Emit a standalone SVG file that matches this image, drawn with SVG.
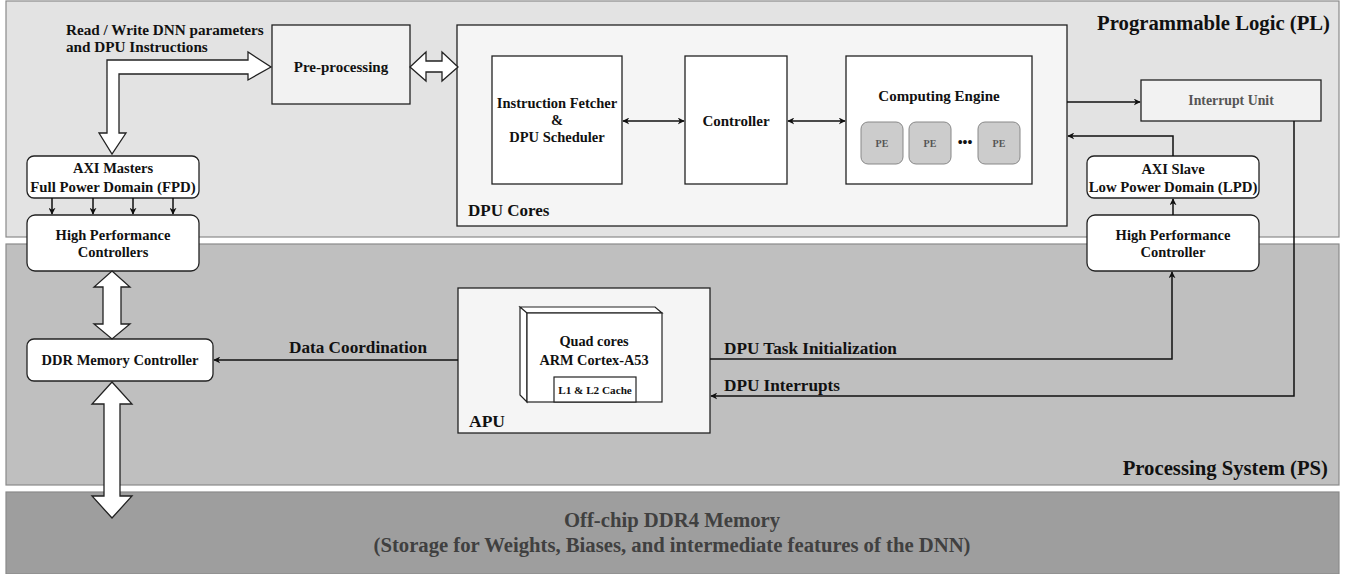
<svg xmlns="http://www.w3.org/2000/svg" width="1346" height="574" viewBox="0 0 1346 574">
<style>
text{font-family:"Liberation Serif","Times New Roman",serif;font-weight:bold;fill:#111}
.c{text-anchor:middle}
.t15{font-size:15px}
.t145{font-size:14.5px}
.panel{stroke:#8a8a8a;stroke-width:1.2}
.box{stroke:#222;stroke-width:1.3}
.rb{fill:#fff;stroke:#222;stroke-width:1.3}
.pe{fill:#cccccc;stroke:#888;stroke-width:1}
.big{fill:#fff;stroke:#222;stroke-width:1.3}
.ln{fill:none;stroke:#111;stroke-width:1.5}
</style>
<defs>
<marker id="ah" viewBox="0 0 10 10" refX="9" refY="5" markerWidth="7" markerHeight="7" orient="auto-start-reverse" markerUnits="userSpaceOnUse">
<path d="M0,0 L10,5 L0,10 L3,5 Z" fill="#111"/>
</marker>
</defs>
<rect width="1346" height="574" fill="#fff"/>
<g id="pl-panel">
<rect class="panel" x="6" y="1" width="1333" height="236" fill="#e3e3e3"/>
<text x="1330" y="30" font-size="20.7" text-anchor="end">Programmable Logic (PL)</text>
</g>
<g id="ps-panel">
<rect class="panel" x="6" y="244" width="1333" height="241" fill="#bfbfbf"/>
<text x="1328" y="475" font-size="20.7" text-anchor="end">Processing System (PS)</text>
</g>
<g id="ddr4">
<rect class="panel" x="6" y="492" width="1333" height="82" fill="#9e9e9e"/>
<text class="c" x="672" y="527" font-size="20.7" style="fill:#404040">Off-chip DDR4 Memory</text>
<text class="c" x="672" y="552" font-size="20.7" style="fill:#404040">(Storage for Weights, Biases, and intermediate features of the DNN)</text>
</g>
<g id="preproc">
<rect class="box" x="272" y="25" width="138" height="79" fill="#f2f2f2"/>
<text class="c t15" x="341" y="72">Pre-processing</text>
</g>
<g id="dpu-cores">
<rect class="box" x="457" y="25" width="610" height="201" fill="#f5f5f5"/>
<text x="468" y="216" font-size="17">DPU Cores</text>
</g>
<g id="fetcher">
<rect class="box" x="492" y="56" width="130" height="128" fill="#fff"/>
<text class="c t145" x="557" y="108">Instruction Fetcher</text>
<text class="c t145" x="557" y="125">&amp;</text>
<text class="c t145" x="557" y="142">DPU Scheduler</text>
</g>
<g id="controller">
<rect class="box" x="685" y="56" width="102" height="128" fill="#fff"/>
<text class="c t15" x="736" y="126">Controller</text>
</g>
<g id="engine">
<rect class="box" x="846" y="56" width="186" height="128" fill="#fff"/>
<text class="c t15" x="939" y="101">Computing Engine</text>
<rect class="pe" x="861" y="122" width="42" height="42" rx="7"/>
<rect class="pe" x="909" y="122" width="42" height="42" rx="7"/>
<rect class="pe" x="978" y="122" width="42" height="42" rx="7"/>
<text class="c" x="882" y="147" font-size="10" style="fill:#555">PE</text>
<text class="c" x="930" y="147" font-size="10" style="fill:#555">PE</text>
<text class="c" x="999" y="147" font-size="10" style="fill:#555">PE</text>
<text class="c" x="965" y="147" font-size="14">•••</text>
</g>
<g id="interrupt-unit">
<rect class="box" x="1141" y="80" width="180" height="41" fill="#f2f2f2"/>
<text class="c" x="1231" y="105" font-size="13.8" style="fill:#555">Interrupt Unit</text>
</g>
<g id="axi-slave">
<rect class="rb" x="1087" y="156" width="172" height="42" rx="7"/>
<text class="c t145" x="1173" y="174">AXI Slave</text>
<text class="c" x="1173" y="192" font-size="14.8">Low Power Domain (LPD)</text>
</g>
<g id="hpc-right">
<rect class="rb" x="1087" y="215" width="172" height="56" rx="8"/>
<text class="c t145" x="1173" y="240">High Performance</text>
<text class="c t145" x="1173" y="257">Controller</text>
</g>
<g id="axi-masters">
<rect class="rb" x="27" y="156" width="172" height="42" rx="7"/>
<text class="c t145" x="113" y="173">AXI Masters</text>
<text class="c" x="113" y="192" font-size="14.8">Full Power Domain (FPD)</text>
</g>
<g id="hpc-left">
<rect class="rb" x="27" y="215" width="172" height="56" rx="8"/>
<text class="c t145" x="113" y="240">High Performance</text>
<text class="c t145" x="113" y="257">Controllers</text>
</g>
<g id="ddr-ctrl">
<rect class="rb" x="27" y="339" width="186" height="42" rx="7"/>
<text class="c t145" x="120" y="365">DDR Memory Controller</text>
</g>
<g id="apu">
<rect class="box" x="458" y="288" width="252" height="145" fill="#f5f5f5"/>
<text x="469" y="427" font-size="17.5">APU</text>
<path d="M520,307 L655,307 L662,313 L527,313 Z M520,307 L527,313 L527,402 L520,395 Z" fill="#fff" stroke="#222" stroke-width="1.2"/>
<rect x="527" y="313" width="135" height="89" fill="#fff" stroke="#222" stroke-width="1.2"/>
<text class="c" x="594" y="346" font-size="14.3">Quad cores</text>
<text class="c" x="594" y="365" font-size="14.3">ARM Cortex-A53</text>
<rect x="554" y="377" width="82" height="25" fill="#fff" stroke="#222" stroke-width="1.2"/>
<text class="c" x="595" y="394" font-size="11.2">L1 &amp; L2 Cache</text>
</g>
<g id="connectors">
<polygon class="big" points="107,133 99,133 112,154 126,133 119,133 119,74 248,74 248,80 271,67 248,52 248,60 107,60"/>
<text x="66" y="35" font-size="15.2">Read / Write DNN parameters</text>
<text x="66" y="52" font-size="15.2">and DPU Instructions</text>
<polygon class="big" points="410,67 426,52 426,61 442,61 442,52 458,67 442,81 442,72 426,72 426,81"/>
<polygon class="big" points="112,271 130,287 121,287 121,324 130,324 112,339 94,324 103,324 103,287 94,287"/>
<polygon class="big" points="112,382 132,404 120,404 120,496 132,496 112,518 92,496 104,496 104,404 92,404"/>
<line class="ln" x1="52" y1="198" x2="52" y2="214" marker-end="url(#ah)"/>
<line class="ln" x1="93" y1="198" x2="93" y2="214" marker-end="url(#ah)"/>
<line class="ln" x1="133" y1="198" x2="133" y2="214" marker-end="url(#ah)"/>
<line class="ln" x1="173" y1="198" x2="173" y2="214" marker-end="url(#ah)"/>
<line class="ln" x1="623" y1="121" x2="684" y2="121" marker-start="url(#ah)" marker-end="url(#ah)"/>
<line class="ln" x1="788" y1="121" x2="845" y2="121" marker-start="url(#ah)" marker-end="url(#ah)"/>
<line class="ln" x1="1067" y1="102" x2="1140" y2="102" marker-end="url(#ah)"/>
<polyline class="ln" points="1173,156 1173,136 1068,136" marker-end="url(#ah)"/>
<line class="ln" x1="1173" y1="215" x2="1173" y2="199" marker-end="url(#ah)"/>
<polyline class="ln" points="710,359 1172,359 1172,272" marker-end="url(#ah)"/>
<polyline class="ln" points="1294,121 1294,396 711,396" marker-end="url(#ah)"/>
<line class="ln" x1="458" y1="360" x2="214" y2="360" marker-end="url(#ah)"/>
<text x="289" y="353" font-size="17.2">Data Coordination</text>
<text x="724" y="354" font-size="17.2">DPU Task Initialization</text>
<text x="724" y="391" font-size="17.2">DPU Interrupts</text>
</g>
</svg>
